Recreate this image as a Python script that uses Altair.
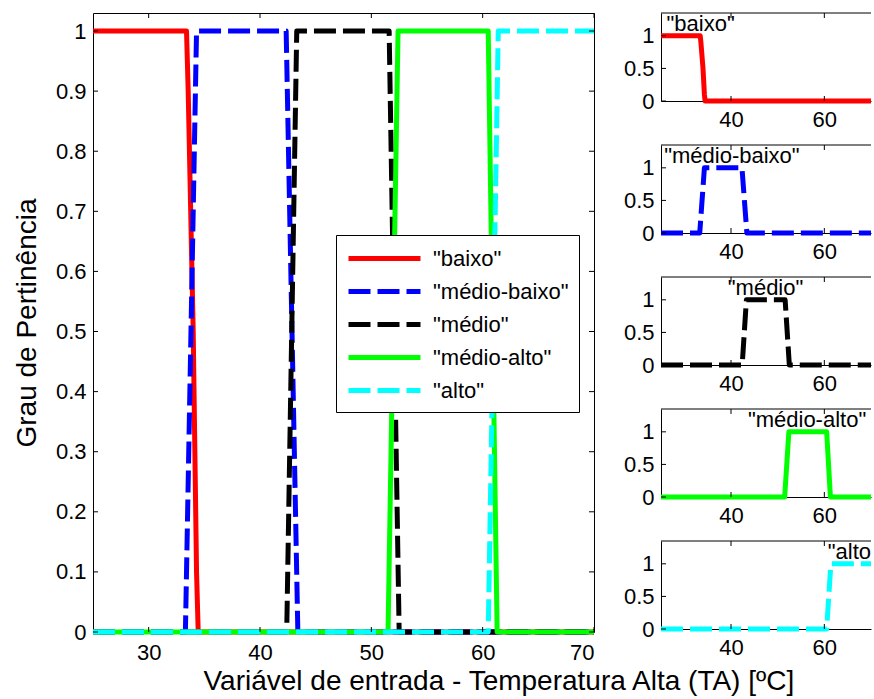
import altair as alt
import pandas as pd

# ---------------- data ----------------
series_names = ['"baixo"', '"médio-baixo"', '"médio"', '"médio-alto"', '"alto"']
series_colors = ['#ff0000', '#0000ff', '#000000', '#00ff00', '#00ffff']
series_dashed = [False, True, True, False, True]

x_baixo = [25, 33.4, 33.55, 34.0, 34.3, 34.45, 70]
y_baixo = [1, 1, 0.9, 0.5, 0.1, 0, 0]
x_medio_baixo = [25, 33.3, 34.3, 42.35, 43.4, 70]
y_medio_baixo = [0, 0, 1, 1, 0, 0]
x_medio = [25, 42.4, 43.3, 51.6, 52.5, 70]
y_medio = [0, 0, 1, 1, 0, 0]
x_medio_alto = [25, 51.5, 52.4, 60.5, 61.3, 70]
y_medio_alto = [0, 0, 1, 1, 0, 0]
x_alto = [25, 60.5, 61.4, 70]
y_alto = [0, 0, 1, 1]

series_x = [x_baixo, x_medio_baixo, x_medio, x_medio_alto, x_alto]
series_y = [y_baixo, y_medio_baixo, y_medio, y_medio_alto, y_alto]

label_x = [33.5, 40.2, 47.4, 56.3, 66.2]
label_y = [1.18, 1.18, 1.18, 1.18, 1.18]

main_x_ticks = [30, 40, 50, 60, 70]
main_y_ticks = [0, 0.1, 0.2, 0.3, 0.4, 0.5, 0.6, 0.7, 0.8, 0.9, 1]
small_x_ticks = [40, 60]
small_y_ticks = [0, 0.5, 1]

rows = []
for name, xv, yv in zip(series_names, series_x, series_y):
    for k, (a, b) in enumerate(zip(xv, yv)):
        rows.append({"serie": name, "x": a, "y": b, "i": k})
df = pd.DataFrame(rows)

# ---------------- style ----------------
FONT = "Liberation Sans, Arial, Helvetica, sans-serif"
W, H = 501, 619
SW, SH = 210, 88
TICK = 5
DASH = [22, 7]
SOLID = [1, 0]
LW = 5
FS = 22
LABEL_EXPR = "format(datum.value, '~g')"

# ---------------- main chart ----------------
xs_main = alt.Scale(domain=[25, 70], nice=False, zero=False)
ys_main = alt.Scale(domain=[0, 1.03], nice=False, zero=False)

x_axis_main = alt.Axis(values=main_x_ticks, ticks=False, domain=False, grid=False,
                       labelFont=FONT, labelFontSize=FS, labelColor="black", labelPadding=10,
                       labelExpr=LABEL_EXPR,
                       title="Variável de entrada - Temperatura Alta (TA) [ºC]", titleFont=FONT,
                       titleFontSize=28, titleFontWeight="normal", titleColor="black", titlePadding=4,
                       titleAnchor="start", titleAlign="left", titleX=110)
y_axis_main = alt.Axis(values=main_y_ticks, ticks=False, domain=False, grid=False,
                       labelFont=FONT, labelFontSize=FS, labelColor="black", labelPadding=7,
                       labelExpr=LABEL_EXPR,
                       title="Grau de Pertinência", titleFont=FONT, titleFontSize=28,
                       titleFontWeight="normal", titleColor="black", titlePadding=14)

color_scale = alt.Scale(domain=series_names, range=series_colors)
dash_scale = alt.Scale(domain=series_names, range=[DASH if d else SOLID for d in series_dashed])

legend = alt.Legend(title=None, orient="none", legendX=243, legendY=222, fillColor="white",
                    strokeColor="black", padding=10, labelFont=FONT, labelFontSize=FS,
                    labelColor="black", labelOffset=60, symbolType="M-1,0H5.545", symbolSize=484,
                    symbolStrokeWidth=5, rowPadding=8, labelLimit=400)

main_layers = []
for name in series_names:
    main_layers.append(
        alt.Chart(df)
        .transform_filter(alt.FieldEqualPredicate(field="serie", equal=name))
        .mark_line(strokeWidth=LW, strokeCap="butt", strokeJoin="round")
        .encode(
            x=alt.X("x:Q", scale=xs_main, axis=x_axis_main),
            y=alt.Y("y:Q", scale=ys_main, axis=y_axis_main),
            color=alt.Color("serie:N", scale=color_scale, legend=legend),
            strokeDash=alt.StrokeDash("serie:N", scale=dash_scale, legend=legend),
            order=alt.Order("i:Q"),
        )
    )

xt_main = pd.DataFrame({"t": main_x_ticks})
yt_main = pd.DataFrame({"t": main_y_ticks})
main_ticks = [
    alt.Chart(xt_main).mark_rule(color="black", strokeWidth=1).encode(
        x=alt.X("t:Q", scale=xs_main, axis=x_axis_main), y=alt.value(H), y2=alt.value(H - TICK)),
    alt.Chart(xt_main).mark_rule(color="black", strokeWidth=1).encode(
        x=alt.X("t:Q", scale=xs_main, axis=x_axis_main), y=alt.value(0), y2=alt.value(TICK)),
    alt.Chart(yt_main).mark_rule(color="black", strokeWidth=1).encode(
        y=alt.Y("t:Q", scale=ys_main, axis=y_axis_main), x=alt.value(0), x2=alt.value(TICK)),
    alt.Chart(yt_main).mark_rule(color="black", strokeWidth=1).encode(
        y=alt.Y("t:Q", scale=ys_main, axis=y_axis_main), x=alt.value(W), x2=alt.value(W - TICK)),
]

main = alt.layer(*main_layers, *main_ticks).properties(
    width=W, height=H, view=alt.ViewBackground(stroke="black", strokeWidth=1))

# ---------------- small panels ----------------
xt_small = pd.DataFrame({"t": small_x_ticks})
yt_small = pd.DataFrame({"t": small_y_ticks})
one_row = pd.DataFrame({"d": [0]})


def small_panel(i):
    name = series_names[i]
    xs = alt.Scale(domain=[25, 70], nice=False, zero=False)
    ys = alt.Scale(domain=[0, 1.35], nice=False, zero=False)
    xa = alt.Axis(values=small_x_ticks, ticks=False, domain=True, domainColor="black",
                  grid=False, labelFont=FONT, labelFontSize=FS, labelColor="black", labelPadding=8,
                  labelExpr=LABEL_EXPR, title=None)
    ya = alt.Axis(values=small_y_ticks, ticks=False, domain=True, domainColor="black",
                  grid=False, labelFont=FONT, labelFontSize=FS, labelColor="black", labelPadding=7,
                  labelExpr=LABEL_EXPR, title=None)
    mk = dict(strokeWidth=LW, strokeCap="butt", strokeJoin="round", color=series_colors[i])
    if series_dashed[i]:
        mk["strokeDash"] = DASH
    line = (
        alt.Chart(df)
        .transform_filter(alt.FieldEqualPredicate(field="serie", equal=name))
        .mark_line(**mk)
        .encode(x=alt.X("x:Q", scale=xs, axis=xa), y=alt.Y("y:Q", scale=ys, axis=ya),
                order=alt.Order("i:Q"))
    )
    lab = (
        alt.Chart(pd.DataFrame({"label": [name], "x": [label_x[i]], "y": [label_y[i]]}))
        .mark_text(font=FONT, fontSize=FS, color="black", align="center", baseline="middle", clip=True)
        .encode(x=alt.X("x:Q", scale=xs, axis=xa), y=alt.Y("y:Q", scale=ys, axis=ya), text="label:N")
    )
    ticks = [
        alt.Chart(xt_small).mark_rule(color="black", strokeWidth=1).encode(
            x=alt.X("t:Q", scale=xs, axis=xa), y=alt.value(SH), y2=alt.value(SH - TICK)),
        alt.Chart(xt_small).mark_rule(color="black", strokeWidth=1).encode(
            x=alt.X("t:Q", scale=xs, axis=xa), y=alt.value(0), y2=alt.value(TICK)),
        alt.Chart(yt_small).mark_rule(color="black", strokeWidth=1).encode(
            y=alt.Y("t:Q", scale=ys, axis=ya), x=alt.value(0), x2=alt.value(TICK)),
        alt.Chart(one_row).mark_rule(color="black", strokeWidth=1).encode(
            x=alt.value(0), x2=alt.value(SW), y=alt.value(0)),
    ]
    return alt.layer(line, lab, *ticks).properties(
        width=SW, height=SH, view=alt.ViewBackground(stroke=None))


small_col = alt.vconcat(*[small_panel(i) for i in range(5)], spacing=44, bounds="flush").resolve_scale(
    x="independent", y="independent")

chart = (
    alt.hconcat(main, small_col, spacing=67, bounds="flush")
    .resolve_scale(x="independent", y="independent", color="independent", strokeDash="independent")
    .properties(padding={"left": 12, "top": 12, "right": 0, "bottom": 0}, background="white")
)

chart.save("out.html", embed_options={"renderer": "svg", "actions": False})
